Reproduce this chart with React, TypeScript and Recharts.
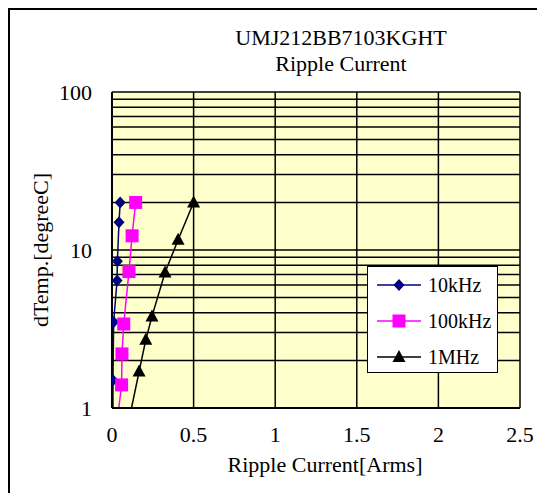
import React from 'react';
import { LineChart, Line, XAxis, YAxis, CartesianGrid, Customized } from 'recharts';

// ripple current [Arms] vs temperature rise [degC]
const current10k = [0.006, 0.006, 0.010, 0.031, 0.033, 0.043, 0.05];
const temp10k = [0.8, 1.5, 3.5, 6.4, 8.5, 15, 20];

const current100k = [0.03, 0.059, 0.061, 0.072, 0.104, 0.123, 0.145];
const temp100k = [0.8, 1.4, 2.2, 3.4, 7.3, 12.3, 20];

const current1M = [0.1, 0.166, 0.207, 0.245, 0.325, 0.405, 0.5];
const temp1M = [0.8, 1.7, 2.7, 3.8, 7.2, 11.6, 20];

const xTicks = [0, 0.5, 1, 1.5, 2, 2.5];
const yTicks = [1, 2, 3, 4, 5, 6, 7, 8, 9, 10, 20, 30, 40, 50, 60, 70, 80, 90, 100];
const yLabels = [1, 10, 100];

const toPoints = (xs: number[], ys: number[]) => xs.map((x, i) => ({ x, y: ys[i] }));

const data10k = toPoints(current10k, temp10k);
const data100k = toPoints(current100k, temp100k);
const data1M = toPoints(current1M, temp1M);

const FONT = '"Liberation Serif", "Times New Roman", serif';

type MarkerKind = 'diamond' | 'square' | 'triangle';

const Marker = ({ kind, cx, cy, color }: { kind: MarkerKind; cx: number; cy: number; color: string }) => {
  if (kind === 'diamond') {
    return <polygon points={`${cx},${cy - 6} ${cx + 5.5},${cy} ${cx},${cy + 6} ${cx - 5.5},${cy}`} fill={color} />;
  }
  if (kind === 'square') {
    return <rect x={cx - 6.5} y={cy - 6.5} width={13} height={13} fill={color} />;
  }
  return <polygon points={`${cx},${cy - 7} ${cx + 6.5},${cy + 5} ${cx - 6.5},${cy + 5}`} fill={color} />;
};

const makeDot = (kind: MarkerKind, color: string) => (props: any) => {
  const { cx, cy, payload, index } = props;
  if (payload.y < 1 || cx == null || cy == null) return <g key={index} />;
  return (
    <g key={index}>
      <Marker kind={kind} cx={cx} cy={cy} color={color} />
    </g>
  );
};

const series = [
  { name: '10kHz', color: '#000080', kind: 'diamond' as MarkerKind },
  { name: '100kHz', color: '#FF00FF', kind: 'square' as MarkerKind },
  { name: '1MHz', color: '#000000', kind: 'triangle' as MarkerKind },
];

const LegendBox = () => (
  <div
    style={{
      position: 'absolute',
      left: 357,
      top: 256,
      width: 129,
      height: 105,
      background: '#fff',
      border: '1px solid #000',
      fontFamily: FONT,
      fontSize: 20,
    }}
  >
    {series.map((s) => (
      <div key={s.name} style={{ display: 'flex', alignItems: 'center', height: 36 }}>
        <svg width={60} height={20} style={{ flex: 'none' }}>
          <line x1={9} y1={10} x2={53} y2={10} stroke={s.color} strokeWidth={1.5} />
          <Marker kind={s.kind} cx={31} cy={10} color={s.color} />
        </svg>
        <span>{s.name}</span>
      </div>
    ))}
  </div>
);

const Title = () => (
  <g fontFamily={FONT} fontSize={22} fill="#000" textAnchor="middle">
    <text x={331} y={35}>UMJ212BB7103KGHT</text>
    <text x={331} y={61}>Ripple Current</text>
  </g>
);

export default function App() {
  return (
    <div
      style={{
        position: 'relative',
        borderTop: '2px solid #000',
        borderLeft: '2px solid #000',
        width: 535,
        height: 483,
      }}
    >
      <LineChart width={535} height={483} margin={{ top: 82, right: 25, bottom: 25, left: 22 }}>
        <CartesianGrid stroke="#000" strokeWidth={1.5} fill="#FFFFCC" fillOpacity={1} />
        <XAxis
          type="number"
          dataKey="x"
          domain={[0, 2.5]}
          ticks={xTicks}
          allowDataOverflow
          height={60}
          tickLine={false}
          tickMargin={12}
          axisLine={{ stroke: '#000', strokeWidth: 2 }}
          tick={{ fill: '#000', fontFamily: FONT, fontSize: 22 }}
          label={{
            value: 'Ripple Current[Arms]',
            position: 'insideBottom',
            offset: -4,
            dx: 9,
            style: { fill: '#000', fontFamily: FONT, fontSize: 22 },
          }}
        />
        <YAxis
          type="number"
          dataKey="y"
          scale="log"
          domain={[1, 100]}
          ticks={yTicks}
          allowDataOverflow
          width={80}
          tickLine={false}
          tickMargin={14}
          interval={0}
          tickFormatter={(v: number) => (yLabels.includes(v) ? String(v) : '')}
          axisLine={{ stroke: '#000', strokeWidth: 2 }}
          tick={{ fill: '#000', fontFamily: FONT, fontSize: 22 }}
          label={{
            value: 'dTemp.[degreeC]',
            angle: -90,
            position: 'insideLeft',
            offset: 8,
            style: { fill: '#000', fontFamily: FONT, fontSize: 22, textAnchor: 'middle' },
          }}
        />
        <Line
          data={data10k}
          dataKey="y"
          name="10kHz"
          stroke="#000080"
          strokeWidth={1.5}
          dot={makeDot('diamond', '#000080')}
          activeDot={false}
          isAnimationActive={false}
        />
        <Line
          data={data100k}
          dataKey="y"
          name="100kHz"
          stroke="#FF00FF"
          strokeWidth={1.5}
          dot={makeDot('square', '#FF00FF')}
          activeDot={false}
          isAnimationActive={false}
        />
        <Line
          data={data1M}
          dataKey="y"
          name="1MHz"
          stroke="#000000"
          strokeWidth={1.5}
          dot={makeDot('triangle', '#000000')}
          activeDot={false}
          isAnimationActive={false}
        />
        <Customized component={Title} />
      </LineChart>
      <LegendBox />
    </div>
  );
}
